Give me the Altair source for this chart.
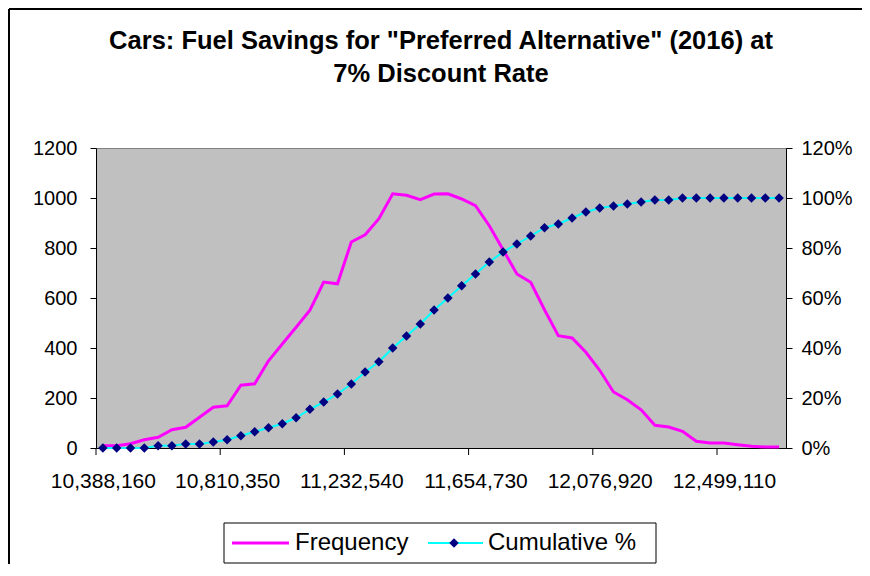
import altair as alt
import pandas as pd

# ---------------- data ----------------
bins = [10388160, 10435070, 10481980, 10528890, 10575800, 10622710, 10669620, 10716530,
        10763440, 10810350, 10857260, 10904170, 10951080, 10997990, 11044900, 11091810,
        11138720, 11185630, 11232540, 11279450, 11326360, 11373270, 11420180, 11467090,
        11514000, 11560910, 11607820, 11654730, 11701640, 11748550, 11795460, 11842370,
        11889280, 11936190, 11983100, 12030010, 12076920, 12123830, 12170740, 12217650,
        12264560, 12311470, 12358380, 12405290, 12452200, 12499110, 12546020, 12592930,
        12639840, 12686750]

frequency = [9, 9, 17, 33, 43, 73, 83, 123, 163, 169,
             251, 257, 349, 416, 483, 551, 664, 657, 824, 853,
             917, 1017, 1011, 993, 1016, 1017, 996, 969, 889, 793,
             696, 663, 553, 449, 440, 383, 311, 224, 193, 153,
             91, 84, 67, 27, 20, 20, 13, 7, 4, 4]

cumulative = [0, 0, 0, 0, 0.009, 0.009, 0.016, 0.016, 0.024, 0.033,
              0.049, 0.065, 0.081, 0.097, 0.121, 0.155, 0.184, 0.216, 0.256, 0.304,
              0.345, 0.400, 0.448, 0.496, 0.552, 0.600, 0.649, 0.696, 0.744, 0.784,
              0.816, 0.848, 0.881, 0.896, 0.920, 0.944, 0.960, 0.968, 0.976, 0.984,
              0.992, 0.992, 1, 1, 1, 1, 1, 1, 1, 1]

x_tick_labels = [10388160, 10810350, 11232540, 11654730, 12076920, 12499110]
left_ticks = [0, 200, 400, 600, 800, 1000, 1200]
right_ticks = [0, 0.2, 0.4, 0.6, 0.8, 1.0, 1.2]
series_names = ["Frequency", "Cumulative %"]
title_lines = ['Cars: Fuel Savings for "Preferred Alternative" (2016) at', "7% Discount Rate"]

# ---------------- style ----------------
FONT = "Liberation Sans"
W, H = 690, 300
MAGENTA, CYAN, NAVY = "#FF00FF", "#00FFFF", "#000080"
DIAMOND = 90

df = pd.DataFrame({"bin": bins, "freq": frequency, "cum": cumulative})
half = (bins[1] - bins[0]) / 2
tick_df = pd.DataFrame({"t": [v - half for v in x_tick_labels]})
xscale = alt.Scale(domain=[bins[0] - half, bins[-1] + half], nice=False, zero=False)
yfreq = alt.Scale(domain=[0, 1200], nice=False, zero=False)
ycum = alt.Scale(domain=[0, 1.2], nice=False, zero=False)

freq_line = alt.Chart(df).mark_line(color=MAGENTA, strokeWidth=3).encode(
    x=alt.X("bin:Q", scale=xscale,
            axis=alt.Axis(values=x_tick_labels, format=",d", title=None, ticks=False, tickSize=0,
                          labelPadding=22, labelFontSize=21, labelFont=FONT, labelColor="black",
                          domainColor="black", grid=False, labelFlush=False, labelOverlap=False)),
    y=alt.Y("freq:Q", scale=yfreq,
            axis=alt.Axis(values=left_ticks, format="d", title=None, tickSize=6, tickColor="black",
                          labelPadding=13, labelFontSize=20, labelFont=FONT, labelColor="black",
                          domainColor="black", grid=False, labelOverlap=False)),
)

# category-boundary tick marks below the x axis (Excel style, between categories)
x_ticks = alt.Chart(tick_df).mark_rule(color="black", strokeWidth=1).encode(
    x=alt.X("t:Q", scale=xscale, axis=None),
    y=alt.value(H), y2=alt.value(H + 7),
)

cum_line = alt.Chart(df).mark_line(color=CYAN, strokeWidth=2).encode(
    x=alt.X("bin:Q", scale=xscale, axis=None),
    y=alt.Y("cum:Q", scale=ycum,
            axis=alt.Axis(orient="right", values=right_ticks, format=".0%", title=None, tickSize=6,
                          tickColor="black", labelPadding=9, labelFontSize=20, labelFont=FONT,
                          labelColor="black", domainColor="black", grid=False, labelOverlap=False)),
)
cum_pts = alt.Chart(df).mark_point(shape="diamond", filled=True, color=NAVY, size=DIAMOND, opacity=1).encode(
    x=alt.X("bin:Q", scale=xscale, axis=None),
    y=alt.Y("cum:Q", scale=ycum, axis=None),
)

deco = pd.DataFrame({"k": [0]})

titles = [
    alt.Chart(deco).mark_text(font=FONT, fontSize=25.5, fontWeight="bold", align="center",
                              baseline="alphabetic", color="black").encode(
        x=alt.value(W / 2), y=alt.value(yy), text=alt.value(line))
    for line, yy in zip(title_lines, [-99, -66])
]

LY = 395
legend_layers = [
    alt.Chart(deco).mark_rect(fill="white", stroke="black", strokeWidth=1).encode(
        x=alt.value(128), x2=alt.value(560), y=alt.value(375), y2=alt.value(415)),
    alt.Chart(deco).mark_rule(color=MAGENTA, strokeWidth=3).encode(
        x=alt.value(136), x2=alt.value(193), y=alt.value(LY)),
    alt.Chart(deco).mark_text(font=FONT, fontSize=24, align="left", baseline="middle", color="black").encode(
        x=alt.value(199), y=alt.value(LY), text=alt.value(series_names[0])),
    alt.Chart(deco).mark_rule(color=CYAN, strokeWidth=2).encode(
        x=alt.value(332), x2=alt.value(387), y=alt.value(LY)),
    alt.Chart(deco).mark_point(shape="diamond", filled=True, color=NAVY, size=DIAMOND, opacity=1).encode(
        x=alt.value(358), y=alt.value(LY)),
    alt.Chart(deco).mark_text(font=FONT, fontSize=24, align="left", baseline="middle", color="black").encode(
        x=alt.value(392), y=alt.value(LY), text=alt.value(series_names[1])),
]

border = [
    alt.Chart(deco).mark_rule(color="black", strokeWidth=2).encode(
        x=alt.value(-87), y=alt.value(-139), y2=alt.value(430)),
    alt.Chart(deco).mark_rule(color="black", strokeWidth=2).encode(
        x=alt.value(-87), x2=alt.value(790), y=alt.value(-139)),
]

chart = alt.layer(freq_line, x_ticks, cum_line, cum_pts, *titles, *legend_layers, *border).resolve_scale(
    y="independent"
).resolve_axis(
    x="independent", y="independent"
).properties(
    width=W, height=H,
    autosize=alt.AutoSizeParams(type="none"),
    padding={"left": 88, "top": 140, "right": 76, "bottom": 116},
    background="white",
).configure_view(
    fill="#C0C0C0", stroke="#808080", strokeWidth=1
)

chart.save("out.html", embed_options={"renderer": "svg", "actions": False})
